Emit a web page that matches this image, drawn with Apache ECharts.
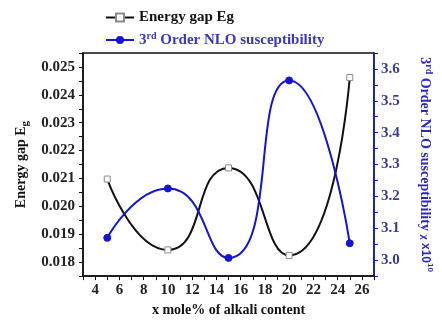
<!DOCTYPE html>
<html>
<head>
<meta charset="utf-8">
<script src="https://cdn.jsdelivr.net/npm/echarts@6/dist/echarts.min.js"></script>
<style>
html,body{margin:0;padding:0;background:#fff;}
#c{width:442px;height:322px;}
</style>
</head>
<body>
<div id="c"></div>
<script>
const xValues = [5, 10, 15, 20, 25];
const energyGap = [0.02098, 0.01844, 0.02138, 0.01824, 0.02462];
const nloSusceptibility = [3.070, 3.225, 3.007, 3.564, 3.053];
const seriesNames = ['Energy gap Eg', '3rd Order NLO susceptibility'];

const FONT = 'Liberation Serif';
const chart = echarts.init(document.getElementById('c'));
const near = (v, step) => Math.abs(v / step - Math.round(v / step)) < 1e-6;

chart.setOption({
  animation: false,
  backgroundColor: '#fff',
  grid: {left: 83, right: 59, top: 53, bottom: 39, show: true, borderColor: '#111', borderWidth: 1.5, backgroundColor: 'transparent'},
  legend: {
    orient: 'vertical', left: 100, top: 5, itemGap: 6, itemWidth: 28, itemHeight: 10,
    textStyle: {fontFamily: FONT, fontWeight: 'bold', fontSize: 15,
      rich: {sup: {fontFamily: FONT, fontWeight: 'bold', fontSize: 10, verticalAlign: 'top', padding: [0, 0, 8, 0]}}},
    formatter: n => n.startsWith('3rd') ? '3{sup|rd} Order NLO susceptibility' : n,
    data: [
      {name: seriesNames[0], textStyle: {color: '#111'}},
      {name: seriesNames[1], textStyle: {color: '#3636c8'}}
    ]
  },
  xAxis: {
    type: 'value', min: 3, max: 27, interval: 1,
    name: 'x mole% of alkali content', nameLocation: 'middle', nameGap: 20,
    nameTextStyle: {fontFamily: FONT, fontWeight: 'bold', fontSize: 14, color: '#111'},
    axisLine: {show: true, lineStyle: {color: '#111', width: 1.5}},
    axisTick: {show: true, length: 4, lineStyle: {color: '#111'}},
    axisLabel: {fontFamily: FONT, fontWeight: 'bold', fontSize: 15, color: '#222', margin: 7,
      formatter: v => (Math.round(v) % 2 === 0 && v > 3 && v < 27) ? String(Math.round(v)) : ''},
    splitLine: {show: false}
  },
  yAxis: [
    {
      type: 'value', position: 'left', min: 0.0175, max: 0.0255, interval: 0.0005,
      name: 'Energy gap E{sub|g}', nameLocation: 'middle', nameGap: 48, nameRotate: 90,
      nameTextStyle: {fontFamily: FONT, fontWeight: 'bold', fontSize: 14, color: '#111',
        rich: {sub: {fontFamily: FONT, fontWeight: 'bold', fontSize: 11, verticalAlign: 'bottom', padding: [6, 0, 0, 0]}}},
      axisLine: {show: true, lineStyle: {color: '#111', width: 1.5}},
      axisTick: {show: true, length: 4, lineStyle: {color: '#111'}},
      axisLabel: {fontFamily: FONT, fontWeight: 'bold', fontSize: 15, color: '#222', margin: 8,
        formatter: v => (near(v, 0.001) && v > 0.0176 && v < 0.0254) ? v.toFixed(3) : ''},
      splitLine: {show: false}
    },
    {
      type: 'value', position: 'right', min: 2.95, max: 3.65, interval: 0.05,
      name: '3{sup|rd} Order NLO susceptibility {chi|χ} {x|x10}{xs|10}', nameLocation: 'middle', nameGap: 42, nameRotate: -90,
      nameTextStyle: {fontFamily: FONT, fontWeight: 'bold', fontSize: 14, color: '#2a2ac0',
        rich: {
          sup: {fontFamily: FONT, fontWeight: 'bold', fontSize: 10, color: '#2a2ac0', verticalAlign: 'top', padding: [0, 0, 8, 0]},
          chi: {fontFamily: FONT, fontSize: 11, color: '#2a2ac0'},
          x: {fontFamily: 'Liberation Sans', fontWeight: 'bold', fontSize: 12, color: '#2a2ac0'},
          xs: {fontFamily: 'Liberation Sans', fontWeight: 'bold', fontSize: 8, color: '#2a2ac0', verticalAlign: 'top', padding: [0, 0, 8, 0]}
        }},
      axisLine: {show: true, lineStyle: {color: '#1414c8', width: 1.5}},
      axisTick: {show: true, length: 4, lineStyle: {color: '#1414c8'}},
      axisLabel: {fontFamily: FONT, fontWeight: 'bold', fontSize: 15, color: '#3a3a9c', margin: 7,
        formatter: v => (near(v, 0.1) && v > 2.96 && v < 3.64) ? v.toFixed(1) : ''},
      splitLine: {show: false}
    }
  ],
  series: [
    {
      name: seriesNames[0], type: 'line', yAxisIndex: 0, smooth: 0.6,
      data: xValues.map((x, i) => [x, energyGap[i]]),
      symbol: 'rect', symbolSize: 6,
      lineStyle: {color: '#111', width: 2},
      itemStyle: {color: '#fff', borderColor: '#8a8a8a', borderWidth: 1}
    },
    {
      name: seriesNames[1], type: 'line', yAxisIndex: 1, smooth: 0.6,
      data: xValues.map((x, i) => [x, nloSusceptibility[i]]),
      symbol: 'circle', symbolSize: 7,
      lineStyle: {color: '#1414d2', width: 2},
      itemStyle: {color: '#1414d2', borderColor: '#1414d2'}
    }
  ]
});
</script>
</body>
</html>
